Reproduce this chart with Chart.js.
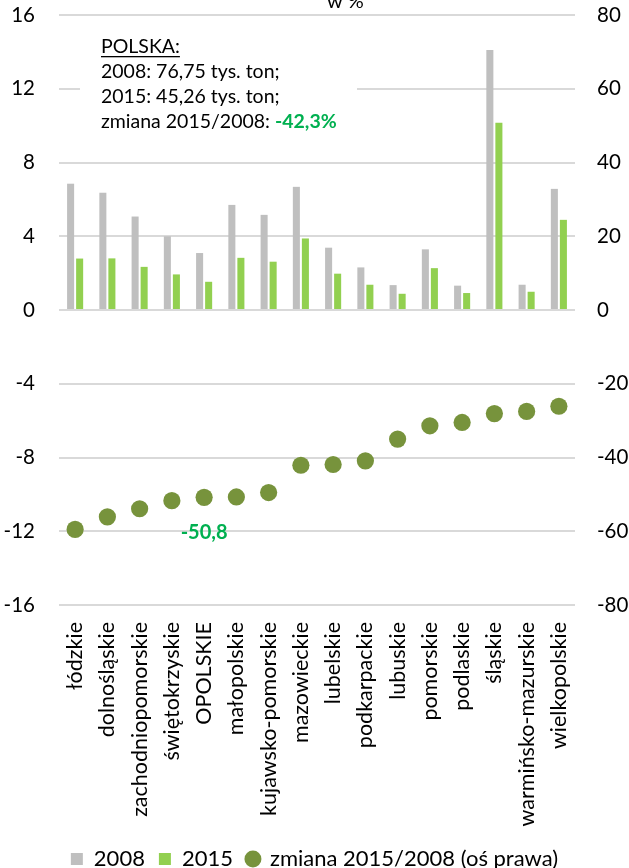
<!DOCTYPE html>
<html>
<head>
<meta charset="utf-8">
<script src="https://cdn.jsdelivr.net/npm/chart.js@4"></script>
<style>
html,body{margin:0;padding:0;background:#fff;}
#wrap{width:629px;height:868px;}
</style>
</head>
<body>
<div id="wrap"><canvas id="c" width="629" height="868"></canvas></div>
<script>
const categories = ['łódzkie','dolnośląskie','zachodniopomorskie','świętokrzyskie','OPOLSKIE','małopolskie','kujawsko-pomorskie','mazowieckie','lubelskie','podkarpackie','lubuskie','pomorskie','podlaskie','śląskie','warmińsko-mazurskie','wielkopolskie'];
const values2008 = [6.85, 6.36, 5.07, 4.0, 3.09, 5.70, 5.16, 6.68, 3.38, 2.31, 1.35, 3.29, 1.32, 14.10, 1.37, 6.57];
const values2015 = [2.79, 2.80, 2.34, 1.93, 1.53, 2.83, 2.62, 3.88, 1.97, 1.37, 0.88, 2.27, 0.92, 10.16, 0.99, 4.89];
const changePct = [-59.5, -56.1, -53.9, -51.7, -50.8, -50.7, -49.5, -42.1, -41.9, -40.9, -35.0, -31.4, -30.5, -28.1, -27.5, -26.1];
const leftTicks = [-16, -12, -8, -4, 0, 4, 8, 12, 16];
const rightTicks = [-80, -60, -40, -20, 0, 20, 40, 60, 80];
const seriesNames = ['2008', '2015', 'zmiana 2015/2008 (oś prawa)'];
const noteLines = ['POLSKA:', '2008: 76,75 tys. ton;', '2015: 45,26 tys. ton;', 'zmiana 2015/2008: ', '-42,3%'];
const highlightLabel = '-50,8';
const highlightIndex = 4;
const titleText = 'w %';

const FONT = 'Lato, "Open Sans", sans-serif';
const PLOT_LEFT = 59, PLOT_RIGHT = 575, PLOT_BOTTOM = 605;
const PAD_BOTTOM = -12;

const annotationPlugin = {
  id: 'annot',
  beforeDatasetsDraw(chart) {
    const ctx = chart.ctx;
    ctx.save();
    ctx.fillStyle = '#ffffff';
    ctx.fillRect(80, 28, 277, 112);
    ctx.restore();
  },
  afterDraw(chart) {
    const ctx = chart.ctx;
    const area = chart.chartArea;
    ctx.save();
    ctx.fillStyle = '#000';
    ctx.font = '20px ' + FONT;
    ctx.textAlign = 'left';
    ctx.textBaseline = 'alphabetic';
    ctx.fillText(titleText, 327, 8);
    const x0 = area.left + 42;
    ctx.font = '19.5px ' + FONT;
    ctx.fillText(noteLines[0], x0, 53);
    const w0 = ctx.measureText(noteLines[0]).width;
    ctx.fillRect(x0, 56, w0, 1.3);
    ctx.fillText(noteLines[1], x0, 78);
    ctx.fillText(noteLines[2], x0, 103);
    ctx.fillText(noteLines[3], x0, 128);
    const w3 = ctx.measureText(noteLines[3]).width;
    ctx.fillStyle = '#00B050';
    ctx.font = 'bold 19.5px ' + FONT;
    ctx.fillText(noteLines[4], x0 + w3, 128);
    const xs = chart.scales.x, y1 = chart.scales.y1;
    ctx.font = 'bold 20px ' + FONT;
    ctx.textAlign = 'center';
    ctx.textBaseline = 'middle';
    ctx.fillText(highlightLabel, xs.getPixelForValue(highlightIndex), y1.getPixelForValue(-60.3));
    ctx.restore();
  }
};

new Chart(document.getElementById('c'), {
  data: {
    labels: categories,
    datasets: [
      {
        type: 'bar', label: seriesNames[0], data: values2008,
        backgroundColor: '#BFBFBF', yAxisID: 'y',
        categoryPercentage: 0.56, barPercentage: 0.78, order: 2
      },
      {
        type: 'bar', label: seriesNames[1], data: values2015,
        backgroundColor: '#92D050', yAxisID: 'y',
        categoryPercentage: 0.56, barPercentage: 0.78, order: 2
      },
      {
        type: 'line', label: seriesNames[2], data: changePct,
        yAxisID: 'y1', showLine: false,
        pointRadius: 8.6, pointHoverRadius: 8.6,
        backgroundColor: '#77933C', borderColor: '#77933C', pointBorderWidth: 0,
        order: 1
      }
    ]
  },
  options: {
    responsive: false,
    animation: false,
    layout: { padding: { top: 15, left: 0, right: 0, bottom: PAD_BOTTOM } },
    plugins: {
      tooltip: { enabled: false },
      title: { display: false },
      legend: {
        position: 'bottom',
        labels: {
          font: { family: FONT, size: 22 },
          color: '#000',
          usePointStyle: true,
          boxWidth: 12, boxHeight: 12,
          padding: 14,
          generateLabels(chart) {
            return chart.data.datasets.map((ds, i) => ({
              text: ds.label,
              fillStyle: ds.backgroundColor,
              strokeStyle: ds.backgroundColor,
              lineWidth: 0,
              pointStyle: i < 2 ? 'rect' : 'circle',
              datasetIndex: i,
              fontColor: '#000'
            }));
          }
        }
      }
    },
    scales: {
      x: {
        type: 'category',
        grid: { display: false, drawTicks: false },
        border: { display: false },
        ticks: {
          minRotation: 90, maxRotation: 90, autoSkip: false,
          padding: 17, color: '#000',
          font: { family: FONT, size: 21.5 }
        },
        afterFit(scale) {
          const lg = scale.chart.legend;
          scale.height = scale.chart.height - PLOT_BOTTOM - (lg ? lg.height : 0) - PAD_BOTTOM;
          scale.paddingLeft = 0; scale.paddingRight = 0;
          scale.paddingTop = 0; scale.paddingBottom = 0;
        }
      },
      y: {
        position: 'left',
        min: -16, max: 16,
        afterBuildTicks(scale) { scale.ticks = leftTicks.map(v => ({ value: v })); },
        grid: { color: '#D9D9D9', lineWidth: 2, drawTicks: false },
        border: { display: false },
        ticks: { padding: 24, color: '#000', font: { family: FONT, size: 20.5 } },
        afterFit(scale) {
          scale.width = PLOT_LEFT;
          scale.paddingTop = 0; scale.paddingBottom = 0;
        }
      },
      y1: {
        position: 'right',
        min: -80, max: 80,
        afterBuildTicks(scale) { scale.ticks = rightTicks.map(v => ({ value: v })); },
        grid: { display: false, drawTicks: false, drawOnChartArea: false },
        border: { display: false },
        ticks: { padding: 22, color: '#000', font: { family: FONT, size: 20.5 } },
        afterFit(scale) {
          scale.width = 629 - PLOT_RIGHT;
          scale.paddingTop = 0; scale.paddingBottom = 0;
        }
      }
    }
  },
  plugins: [annotationPlugin]
});
</script>
</body>
</html>
